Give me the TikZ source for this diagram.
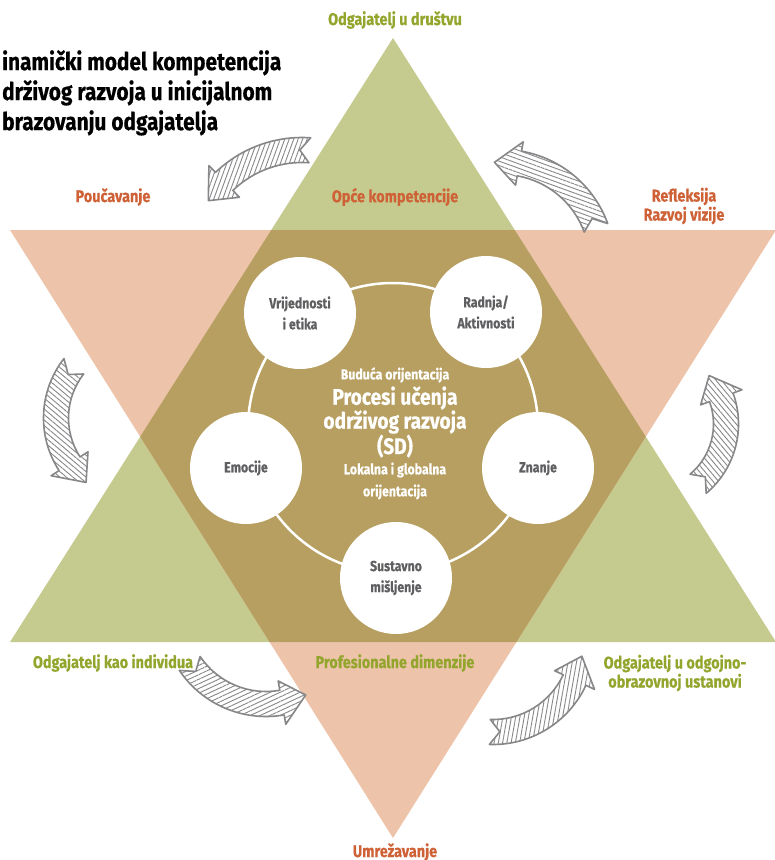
\documentclass[tikz,border=0pt]{standalone}
\usepackage{fontspec}
\setmainfont[FakeStretch=0.85, BoldFeatures={FakeBold=0.5}]{Fira Sans}
\usetikzlibrary{patterns.meta}
\definecolor{grn}{RGB}{197,203,143}
\definecolor{org}{RGB}{237,196,170}
\definecolor{ovl}{RGB}{183,159,97}
\definecolor{otxt}{RGB}{207,97,55}
\definecolor{gtxt}{RGB}{147,165,45}
\definecolor{ctxt}{RGB}{95,95,98}
\definecolor{arr}{RGB}{135,135,138}
\tikzset{
  harrow/.style={preaction={fill=white}, draw=arr, line width=1.6pt, line join=round, pattern color=arr},
  lab/.style={font=\fontsize{17}{19}\selectfont\bfseries, align=center, inner sep=0pt},
  smallc/.style={circle, fill=white, minimum size=112pt, inner sep=0pt, align=center, text=ctxt, font=\fontsize{14.5}{21}\selectfont\bfseries},
  ctext/.style={text=white, align=center, inner sep=0pt, font=\bfseries}
}
% #1 centre, #2 mid radius, #3 tail angle, #4 head-base angle, #5 sign, #6 hatch angle
\newcommand\hArrow[6]{%
  \pgfmathsetmacro\rA{#2+12.5}\pgfmathsetmacro\rB{#2-12.5}%
  \pgfmathsetmacro\rC{#2+22}\pgfmathsetmacro\rD{#2-22}%
  \pgfmathsetmacro\aT{#4+#5*25/#2*57.3}\pgfmathsetmacro\aN{#3+#5*10/#2*57.3}%
  \draw[harrow, pattern={Lines[angle=#6,distance=4.2pt,line width=0.9pt]}, shift={#1}]
    (#3:\rA) arc[start angle=#3, end angle=#4, radius=\rA] -- (#4:\rC) -- (\aT:#2)
    -- (#4:\rD) -- (#4:\rB) arc[start angle=#4, end angle=#3, radius=\rB] -- (\aN:#2) -- cycle;
}
\begin{document}
\begin{tikzpicture}[x=1pt,y=-1pt]
\useasboundingbox (0,0) rectangle (775,860);
\fill[white] (0,0) rectangle (775,860);
% triangles
\fill[grn] (393,38) -- (10,642) -- (776,642) -- cycle;
\fill[org] (10,230) -- (776,230) -- (393,838) -- cycle;
\begin{scope}
  \clip (393,38) -- (10,642) -- (776,642) -- cycle;
  \fill[ovl] (10,230) -- (776,230) -- (393,838) -- cycle;
\end{scope}
% ring and circles
\node[circle, draw=white, line width=2.5pt, minimum size=290pt, inner sep=0pt] (ring) at (393,428) {};
\node[smallc] (c1) at (300,313) {Vrijednosti\\i etika};
\node[smallc] (c2) at (486,312) {Radnja/\\Aktivnosti};
\node[smallc] (c3) at (246,468) {Emocije};
\node[smallc] (c4) at (538,468) {Znanje};
\node[smallc] (c5) at (396,578) {Sustavno\\mišljenje};
% centre text
\node[ctext, font=\fontsize{14.5}{18}\selectfont\bfseries] (m1) at (395,375) {Buduća orijentacija};
\node[ctext, font=\fontsize{22.5}{24}\selectfont\bfseries] (m2) at (395,422) {Procesi učenja\\održivog razvoja\\(SD)};
\node[ctext, font=\fontsize{14.5}{22}\selectfont\bfseries] (m3) at (395,481) {Lokalna i globalna\\orijentacija};
% arrows
\hArrow{(302,262)}{112}{-86}{-134}{-1}{70}
\hArrow{(502,262)}{100}{-20}{-80}{-1}{-20}
\hArrow{(140,418)}{84}{218}{147}{-1}{-40}
\hArrow{(648,424)}{78}{50}{-20}{-1}{-50}
\hArrow{(266,612)}{92}{146}{80}{-1}{25}
\hArrow{(493,642)}{90}{92}{25}{-1}{80}
% title
\node[anchor=north west, align=left, inner sep=0pt, font=\fontsize{24.5}{30}\selectfont\bfseries] (title) at (2,50) {inamički model kompetencija\\drživog razvoja u inicijalnom\\brazovanju odgajatelja};
% labels
\node[lab, text=gtxt] (l1) at (395,20) {Odgajatelj u društvu};
\node[lab, text=otxt] (l2) at (113,197) {Poučavanje};
\node[lab, text=otxt] (l3) at (395,197) {Opće kompetencije};
\node[lab, text=otxt] (l4) at (684,206) {Refleksija\\Razvoj vizije};
\node[lab, text=gtxt] (l5) at (113,663) {Odgajatelj kao individua};
\node[lab, text=gtxt] (l6) at (395,663) {Profesionalne dimenzije};
\node[lab, text=gtxt] (l7) at (675,673) {Odgajatelj u odgojno-\\obrazovnoj ustanovi};
\node[lab, text=otxt] (l8) at (395,852) {Umrežavanje};
\end{tikzpicture}
\end{document}
